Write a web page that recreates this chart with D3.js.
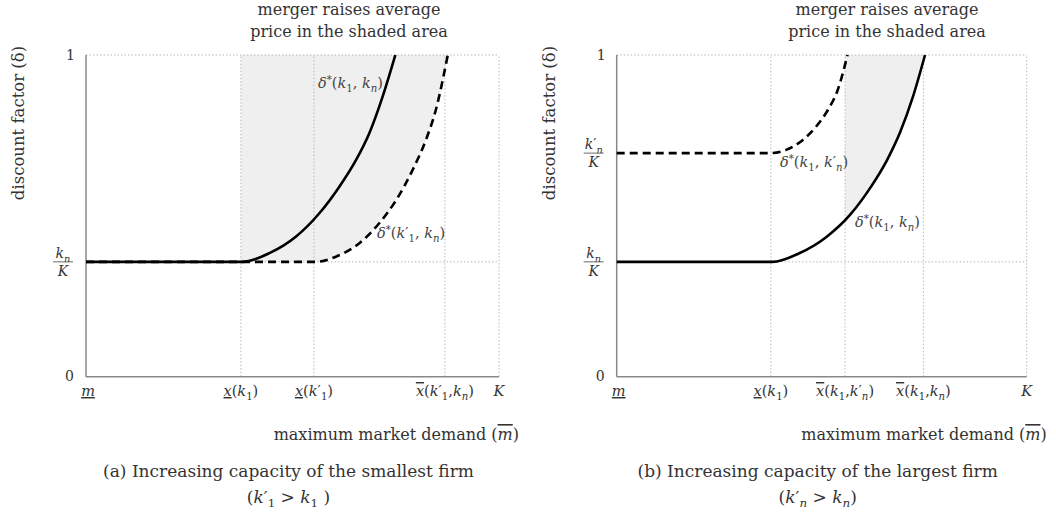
<!DOCTYPE html>
<html>
<head>
<meta charset="utf-8">
<script src="https://cdn.jsdelivr.net/npm/d3@7"></script>
<style>
  body { margin: 0; background: #fff; }
  svg text { font-family: "DejaVu Serif", serif; fill: #333; }
</style>
</head>
<body>
<svg id="chart" width="1056" height="516"></svg>
<script>
// levels on the delta axis
var knK = 0.357
var knPrimeK = 0.695

// panel (a): increasing capacity of the smallest firm
var a_ticks = [0, 0.375, 0.552, 0.869, 1]
var a_solid = [[0, 0.357], [0.379, 0.357], [0.444, 0.384], [0.508, 0.435], [0.565, 0.508], [0.613, 0.590], [0.654, 0.674], [0.686, 0.757], [0.718, 0.870], [0.749, 1.0]]
var a_dashed = [[0, 0.357], [0.557, 0.357], [0.605, 0.373], [0.662, 0.415], [0.710, 0.477], [0.751, 0.549], [0.791, 0.643], [0.823, 0.736], [0.847, 0.829], [0.876, 1.0]]

// panel (b): increasing capacity of the largest firm
var b_ticks = [0, 0.376, 0.557, 0.748, 1]
var b_solid = [[0, 0.357], [0.380, 0.357], [0.444, 0.383], [0.510, 0.433], [0.569, 0.503], [0.620, 0.590], [0.660, 0.675], [0.691, 0.759], [0.722, 0.868], [0.752, 1.0]]
var b_dashed = [[0, 0.695], [0.376, 0.695], [0.413, 0.705], [0.454, 0.736], [0.486, 0.777], [0.515, 0.829], [0.539, 0.891], [0.563, 1.0]]

var svg = d3.select("#chart")

// write a label made of pieces: {t, i (italic), sub, sup, deco}
function math(text, segs) {
    var shift = 0
    segs.forEach(function (s) {
        var want = s.sub ? 4 : (s.sup ? -5 : 0)
        var tsp = text.append("tspan").attr("dy", want - shift).text(s.t)
        if (s.sub || s.sup) tsp.attr("font-size", "0.7em")
        if (s.i) tsp.attr("font-style", "italic")
        if (s.deco) tsp.style("text-decoration", s.deco)
        shift = want
    })
}

function fraction(g, cx, cy, numSegs) {
    var t = g.append("text").attr("x", cx).attr("y", cy - 4).attr("text-anchor", "middle").style("font-size", "14px")
    math(t, numSegs)
    g.append("line").attr("x1", cx - 10).attr("x2", cx + 10).attr("y1", cy).attr("y2", cy)
        .attr("stroke", "#444").attr("stroke-width", 0.8)
    g.append("text").attr("x", cx).attr("y", cy + 14).attr("text-anchor", "middle")
        .style("font-size", "14px").style("font-style", "italic").text("K")
}

function drawPanel(p) {
    var x = d3.scaleLinear().domain([0, 1]).range([p.left, p.right])
    var y = d3.scaleLinear().domain([0, 1]).range([376.7, 55])
    var g = svg.append("g")

    // shaded area (clipped at the left boundary)
    g.append("clipPath").attr("id", "clip" + p.id)
        .append("rect").attr("x", x(p.shadeFrom)).attr("y", y(1))
        .attr("width", x(1) - x(p.shadeFrom)).attr("height", y(0) - y(1))
    var area = d3.area().x(function (d) { return x(d[0]) })
        .y0(function (d) { return y(d[1]) }).y1(y(1)).curve(d3.curveMonotoneX)
    g.append("path").datum(p.shadeCurve).attr("d", area)
        .attr("clip-path", "url(#clip" + p.id + ")").attr("fill", "#efefef")

    // dotted grid
    var grid = "#b8b8b8"
    p.ticks.slice(1).forEach(function (t) {
        g.append("line").attr("x1", x(t)).attr("x2", x(t)).attr("y1", y(0)).attr("y2", y(1))
            .attr("stroke", grid).attr("stroke-dasharray", "1.5,2")
    })
    ;[1, knK].forEach(function (v) {
        g.append("line").attr("x1", x(0)).attr("x2", x(1)).attr("y1", y(v)).attr("y2", y(v))
            .attr("stroke", grid).attr("stroke-dasharray", "1.5,2")
    })

    // axes
    g.append("line").attr("x1", x(0)).attr("x2", x(0)).attr("y1", y(0)).attr("y2", y(1))
        .attr("stroke", "#888").attr("stroke-width", 1.5)
    g.append("line").attr("x1", x(0)).attr("x2", x(1)).attr("y1", y(0)).attr("y2", y(0))
        .attr("stroke", "#888").attr("stroke-width", 1.5)

    // curves
    var line = d3.line().x(function (d) { return x(d[0]) }).y(function (d) { return y(d[1]) })
        .curve(d3.curveMonotoneX)
    g.append("path").datum(p.dashed).attr("d", line).attr("fill", "none")
        .attr("stroke", "#000").attr("stroke-width", 2.6).attr("stroke-dasharray", "8,5")
    g.append("path").datum(p.solid).attr("d", line).attr("fill", "none")
        .attr("stroke", "#000").attr("stroke-width", 2.6)

    // y tick labels
    g.append("text").attr("x", x(0) - 11).attr("y", y(1) + 5).attr("text-anchor", "end")
        .style("font-size", "14px").text("1")
    g.append("text").attr("x", x(0) - 12).attr("y", y(0) + 4).attr("text-anchor", "end")
        .style("font-size", "14px").text("0")
    fraction(g, x(0) - 23, y(knK), [{ t: "k", i: 1 }, { t: "n", i: 1, sub: 1 }])
    if (p.id == "b") fraction(g, x(0) - 23, y(knPrimeK), [{ t: "k", i: 1 }, { t: "′" }, { t: "n", i: 1, sub: 1 }])

    // x tick labels
    p.tickLabels.forEach(function (segs, i) {
        var t = g.append("text").attr("x", x(p.ticks[i]) + (i == 0 ? 2 : 0)).attr("y", 396)
            .attr("text-anchor", "middle").style("font-size", "14.5px")
        math(t, segs)
    })

    // y axis title
    g.append("text").attr("transform", "translate(" + (p.left - 62) + ",123)rotate(-90)")
        .attr("text-anchor", "middle").style("font-size", "16.5px").text("discount factor (δ)")

    // x axis title
    var xt = g.append("text").attr("x", p.right + 20).attr("y", 440).attr("text-anchor", "end").style("font-size", "16px")
    math(xt, [{ t: "maximum market demand (" }, { t: "m", i: 1, deco: "overline" }, { t: ")" }])

    // note at the top
    g.append("text").attr("x", p.noteX).attr("y", 15).attr("text-anchor", "middle")
        .style("font-size", "16px").text("merger raises average")
    g.append("text").attr("x", p.noteX).attr("y", 37).attr("text-anchor", "middle")
        .style("font-size", "16px").text("price in the shaded area")

    // curve labels
    p.curveLabels.forEach(function (c) {
        var t = g.append("text").attr("x", c.x).attr("y", c.y).style("font-size", "14.5px").style("fill", "#444")
        math(t, c.segs)
    })

    // caption
    var cx = (p.left + p.right) / 2 - 4
    g.append("text").attr("x", cx).attr("y", 477).attr("text-anchor", "middle")
        .style("font-size", "17px").text(p.caption)
    var c2 = g.append("text").attr("x", cx).attr("y", 503).attr("text-anchor", "middle").style("font-size", "17px")
    math(c2, p.caption2)
}

var dStar = function (a, b) {
    return [{ t: "δ", i: 1 }, { t: "*", sup: 1 }, { t: "(" }].concat(a).concat([{ t: ", " }]).concat(b).concat([{ t: ")" }])
}
var k1 = [{ t: "k", i: 1 }, { t: "1", sub: 1 }]
var k1p = [{ t: "k", i: 1 }, { t: "′" }, { t: "1", sub: 1 }]
var kn = [{ t: "k", i: 1 }, { t: "n", i: 1, sub: 1 }]
var knp = [{ t: "k", i: 1 }, { t: "′" }, { t: "n", i: 1, sub: 1 }]
var mLow = [{ t: "m", i: 1, deco: "underline" }]
var K = [{ t: "K", i: 1 }]
function xLow(arg) { return [{ t: "x", i: 1, deco: "underline" }, { t: "(" }].concat(arg).concat([{ t: ")" }]) }
function xHigh(a, b) { return [{ t: "x", i: 1, deco: "overline" }, { t: "(" }].concat(a).concat([{ t: "," }]).concat(b).concat([{ t: ")" }]) }

drawPanel({
    id: "a", left: 86, right: 499, noteX: 349,
    ticks: a_ticks, solid: a_solid, dashed: a_dashed,
    shadeFrom: a_ticks[1], shadeCurve: a_dashed,
    tickLabels: [mLow, xLow(k1), xLow(k1p), xHigh(k1p, kn), K],
    curveLabels: [
        { x: 318, y: 88, segs: dStar(k1, kn) },
        { x: 377, y: 238, segs: dStar(k1p, kn) }
    ],
    caption: "(a) Increasing capacity of the smallest firm",
    caption2: [{ t: "(" }].concat(k1p).concat([{ t: " > " }]).concat(k1).concat([{ t: " )" }])
})

drawPanel({
    id: "b", left: 616.7, right: 1026.7, noteX: 887,
    ticks: b_ticks, solid: b_solid, dashed: b_dashed,
    shadeFrom: b_ticks[2], shadeCurve: b_solid,
    tickLabels: [mLow, xLow(k1), xHigh(k1, knp), xHigh(k1, kn), K],
    curveLabels: [
        { x: 780, y: 167, segs: dStar(k1, knp) },
        { x: 855, y: 227, segs: dStar(k1, kn) }
    ],
    caption: "(b) Increasing capacity of  the largest firm",
    caption2: [{ t: "(" }].concat(knp).concat([{ t: " > " }]).concat(kn).concat([{ t: ")" }])
})
</script>
</body>
</html>
